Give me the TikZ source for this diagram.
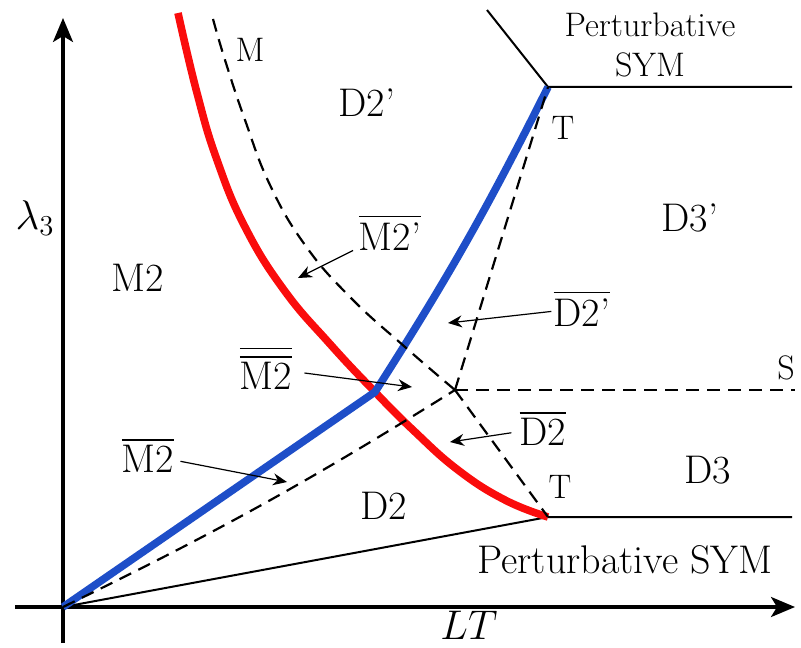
\documentclass[tikz,border=0pt]{standalone}
\usepackage{amsmath}
\usepackage{tikz}
\usetikzlibrary{arrows.meta}
\definecolor{phasered}{RGB}{250,12,12}
\definecolor{phaseblue}{RGB}{30,78,200}

\begin{document}
\begin{tikzpicture}[x=0.5pt, y=-0.5pt, >=Stealth,
  lbl/.style={font=\fontsize{20}{24}\selectfont, inner sep=0pt},
  tag/.style={font=\fontsize{17}{20}\selectfont, inner sep=0pt},
  axis/.style={line width=1.6pt, -{Stealth[length=12pt, width=10pt, inset=3pt]}},
  bdry/.style={line width=1pt, line join=round},
  band/.style={line width=3.8pt, line join=round},
  dsh/.style={line width=1.1pt, dash pattern=on 6.5pt off 4pt},
  ptr/.style={line width=0.6pt, -{Stealth[length=7pt, width=6pt]}}]
  \useasboundingbox (0,0) rectangle (801,647);
  \coordinate (O) at (63,607);
  \coordinate (K) at (375,392);
  \coordinate (X) at (455,390);
  \coordinate (Ttop) at (548,87);
  \coordinate (Tbot) at (548,517);

  \draw[axis] (15,607) -- (795,607);
  \draw[axis] (63,643) -- (63,18);
  \node[lbl] (lam) at (35,218) {$\lambda_3$};
  \node[lbl] (lt) at (469,625) {$LT$};

  \draw[bdry] (487,10) -- (Ttop) -- (792,87);
  \draw[bdry] (O) -- (Tbot) -- (792,517);

  \draw[band, phasered] plot[smooth, tension=0.75] coordinates {(178,13) (197,93) (217,160) (245,227) (284,290) (330,344) (K) (413,430) (458,470) (505,500) (Tbot)};
  \draw[band, phaseblue] (O) -- (K) to[bend right=3] (Ttop);

  \draw[dsh] plot[smooth, tension=0.75] coordinates {(213,19) (225,60) (245,120) (270,185) (305,245) (350,297) (405,347) (X)};
  \draw[dsh] (O) to[bend right=3] (X);
  \draw[dsh] (X) -- (Ttop);
  \draw[dsh] (X) -- (Tbot);
  \draw[dsh] (X) -- (795,390);

  \node[tag, align=center] (psymtop) at (650,45) {Perturbative\\SYM};
  \node[tag] (ttop) at (563,128) {T};
  \node[tag] (tbot) at (560,487) {T};
  \node[tag] (mlab) at (250,50) {M};
  \node[tag] (slab) at (786,368) {S};
  \node[lbl] (d2p) at (367,103) {D2'};
  \node[lbl] (d3p) at (690,218) {D3'};
  \node[lbl] (m2) at (138,278) {M2};
  \node[lbl] (d2) at (384,506) {D2};
  \node[lbl] (d3) at (708,470) {D3};
  \node[lbl] (psym) at (625,560) {Perturbative SYM};

  \node[lbl] (m2pbar) at (390,232) {$\overline{\mbox{M2'}}$};
  \node[lbl] (d2pbar) at (582,308) {$\overline{\mbox{D2'}}$};
  \node[lbl] (m2bbar) at (266,368) {$\overline{\overline{\mbox{M2}}}$};
  \node[lbl] (d2bar) at (543,428) {$\overline{\mbox{D2}}$};
  \node[lbl] (m2bar) at (148,455) {$\overline{\mbox{M2}}$};

  \coordinate (m2ptip) at (298,278);
  \coordinate (d2ptip) at (448,323);
  \coordinate (m2btip) at (412,387);
  \coordinate (d2tip) at (450,442);
  \coordinate (m2tip) at (287,482);
  \draw[ptr, shorten <=3pt] (m2pbar) -- (m2ptip);
  \draw[ptr, shorten <=1pt] (d2pbar) -- (d2ptip);
  \draw[ptr, shorten <=6pt] (m2bbar) -- (m2btip);
  \draw[ptr, shorten <=4pt] (d2bar) -- (d2tip);
  \draw[ptr, shorten <=3pt] (m2bar) -- (m2tip);
\end{tikzpicture}
\end{document}
